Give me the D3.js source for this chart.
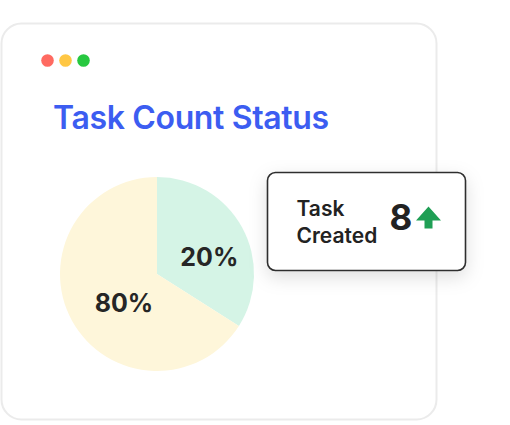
<!DOCTYPE html>
<html><head><meta charset="utf-8">
<script src="https://cdn.jsdelivr.net/npm/d3@7"></script>
<style>html,body{margin:0;padding:0;background:#fff;}svg{display:block;font-family:Inter,"Open Sans",sans-serif;}</style>
</head><body>
<svg id="c" width="510" height="425"></svg>
<script>
const title = "Task Count Status";
const categories = ["Completed", "Pending"];
const sliceValues = [34, 66];
const sliceLabels = ["20%", "80%"];
const sliceColors = ["#d5f4e6", "#fef6da"];
const dotColors = ["#ff6a61", "#ffc744", "#27c840"];
const kpiLabel = ["Task", "Created"];
const kpiValue = 8;

const svg = d3.select("#c");
const defs = svg.append("defs");
const f = defs.append("filter").attr("id","sh").attr("x","-30%").attr("y","-30%").attr("width","160%").attr("height","170%");
f.append("feDropShadow").attr("dx",0).attr("dy",6).attr("stdDeviation",9).attr("flood-color","#000").attr("flood-opacity",0.13);

// card
svg.append("rect").attr("x",1.5).attr("y",23.5).attr("width",435).attr("height",396).attr("rx",20)
  .attr("fill","#fff").attr("stroke","#ebebeb").attr("stroke-width",2);

// window dots
const dx = d3.scalePoint().domain(d3.range(dotColors.length)).range([47.5,83.5]);
svg.selectAll("circle.dot").data(dotColors).join("circle").attr("class","dot")
  .attr("cx",(d,i)=>dx(i)).attr("cy",60.5).attr("r",6.3).attr("fill",d=>d);

// title
svg.append("text").attr("x",53).attr("y",129).attr("fill","#3c5df1")
  .attr("font-size",32).attr("font-weight",600).attr("letter-spacing",-0.35).text(title);

// pie
const cx = 157, cy = 274, r = 97;
const pie = d3.pie().sort(null).value(d=>d)(sliceValues);
const arc = d3.arc().innerRadius(0).outerRadius(r);
const g = svg.append("g").attr("transform",`translate(${cx},${cy})`);
g.selectAll("path").data(pie).join("path").attr("d",arc).attr("fill",(d,i)=>sliceColors[i]);
const labelR = [0.58, 0.5];
const labelShift = [[3,10],[9.5,5.5]];
g.selectAll("text").data(pie).join("text")
  .attr("transform",(d,i)=>{
    const c = d3.arc().innerRadius(r*labelR[i]).outerRadius(r*labelR[i]).centroid(d);
    return `translate(${c[0]+labelShift[i][0]},${c[1]+labelShift[i][1]})`;
  })
  .attr("text-anchor","middle").attr("dy","0.36em")
  .attr("font-size",25).attr("font-weight",700).attr("fill","#262626")
  .text((d,i)=>sliceLabels[i]);

// KPI box
const kb = svg.append("g");
kb.append("rect").attr("x",267.5).attr("y",172.5).attr("width",198).attr("height",98).attr("rx",8)
  .attr("fill","#fff").attr("stroke","#2e2e2e").attr("stroke-width",1.6).attr("filter","url(#sh)");
kb.selectAll("text.lbl").data(kpiLabel).join("text").attr("class","lbl")
  .attr("x",296.5).attr("y",(d,i)=>216+i*26.5).attr("font-size",21).attr("font-weight",600)
  .attr("fill","#222").text(d=>d);
kb.append("text").attr("x",389.5).attr("y",229.5).attr("font-size",35).attr("font-weight",700)
  .attr("fill","#222").text(kpiValue);
kb.append("path").attr("d","M428.5,206.5 L441,220.5 L432.5,220.5 L432.5,228.5 L424.5,228.5 L424.5,220.5 L416,220.5 Z")
  .attr("fill","#1f9f55");
</script>
</body></html>
